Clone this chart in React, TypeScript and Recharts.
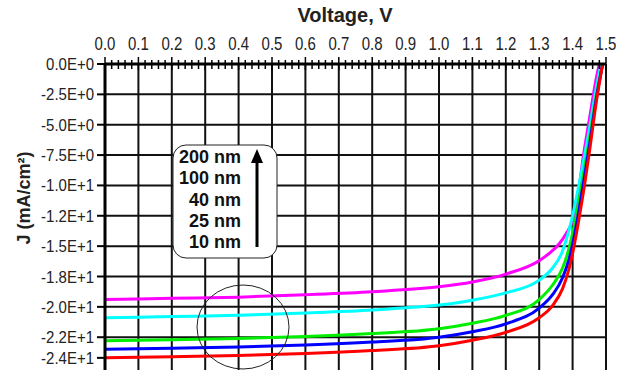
import React from 'react';
import { LineChart, Line, XAxis, YAxis, CartesianGrid } from 'recharts';

// J-V curves for different layer thicknesses
const v200 = [0, 0.2, 0.4, 0.6, 0.8, 1.0, 1.1, 1.2, 1.3, 1.33, 1.36, 1.38, 1.405, 1.415, 1.43, 1.45, 1.47, 1.48];
const j200 = [-19.4, -19.3, -19.2, -19.0, -18.75, -18.35, -17.95, -17.3, -16.2, -15.6, -14.8, -14.0, -12.5, -11.2, -8.0, -4.6, -1.3, 0];

const v100 = [0, 0.2, 0.4, 0.6, 0.8, 1.0, 1.1, 1.2, 1.3, 1.34, 1.37, 1.385, 1.4, 1.42, 1.45, 1.47, 1.485];
const j100 = [-20.9, -20.8, -20.7, -20.5, -20.25, -19.85, -19.45, -18.85, -17.8, -16.8, -15.4, -14.1, -12.5, -9.8, -5.4, -2.1, 0];

const v40 = [0, 0.2, 0.4, 0.6, 0.8, 1.0, 1.1, 1.2, 1.3, 1.34, 1.37, 1.385, 1.41, 1.43, 1.45, 1.47, 1.49];
const j40 = [-22.8, -22.7, -22.6, -22.45, -22.2, -21.8, -21.35, -20.7, -19.4, -18.2, -16.8, -15.6, -12.6, -9.5, -6.3, -2.8, 0];

const v25 = [0, 0.2, 0.4, 0.6, 0.8, 1.0, 1.1, 1.2, 1.3, 1.34, 1.37, 1.39, 1.415, 1.43, 1.45, 1.47, 1.49];
const j25 = [-23.5, -23.4, -23.3, -23.15, -22.9, -22.5, -22.05, -21.4, -20.1, -19.0, -17.6, -16.0, -12.7, -10.2, -6.8, -3.0, 0];

const v10 = [0, 0.2, 0.4, 0.6, 0.8, 1.0, 1.1, 1.2, 1.3, 1.34, 1.37, 1.39, 1.4, 1.42, 1.435, 1.45, 1.47, 1.49];
const j10 = [-24.2, -24.1, -24.0, -23.85, -23.6, -23.2, -22.75, -22.1, -20.9, -19.9, -18.5, -16.8, -15.6, -12.6, -10.1, -7.3, -3.3, 0];

const legendLabels = ['200 nm', '100 nm', '40 nm', '25 nm', '10 nm'];

const voltMajor = [0, 0.1, 0.2, 0.3, 0.4, 0.5, 0.6, 0.7, 0.8, 0.9, 1.0, 1.1, 1.2, 1.3, 1.4, 1.5];
const voltMinor = Array.from({ length: 76 }, (_, i) => +(i * 0.02).toFixed(2));

const jTicks = [0, -2.5, -5, -7.5, -10, -12.5, -15, -17.5, -20, -22.5, -24.2];
const jTickLabels = ['0.0E+0', '-2.5E+0', '-5.0E+0', '-7.5E+0', '-1.0E+1', '-1.2E+1', '-1.5E+1', '-1.8E+1', '-2.0E+1', '-2.2E+1', '-2.4E+1'];
const jGrid = [0, -2.5, -5, -7.5, -10, -12.5, -15, -17.5, -20, -22.5];

const toRows = (vs: number[], js: number[]) => vs.map((v, i) => ({ v, j: js[i] }));

const series = [
  { name: '200 nm', color: '#ff00ff', data: toRows(v200, j200) },
  { name: '100 nm', color: '#00ffff', data: toRows(v100, j100) },
  { name: '40 nm', color: '#00ee00', data: toRows(v40, j40) },
  { name: '25 nm', color: '#0000ff', data: toRows(v25, j25) },
  { name: '10 nm', color: '#ff0000', data: toRows(v10, j10) },
];

const FONT = '"Liberation Sans", Arial, sans-serif';

const VoltTick = (props: any) => {
  const { x, y, payload } = props;
  const v = payload.value;
  const major = Math.abs(v * 10 - Math.round(v * 10)) < 1e-6;
  return (
    <g>
      <line x1={x} x2={x} y1={major ? y - 7 : y - 4} y2={major ? y + 6 : y + 5} stroke="#000" strokeWidth={1.5} />
      {major && (
        <text
          transform={`translate(${x},${y - 14}) scale(1,1.2)`}
          textAnchor="middle"
          fontSize={15}
          fill="#222"
          fontFamily={FONT}
        >
          {v.toFixed(1)}
        </text>
      )}
    </g>
  );
};

const JTick = (props: any) => {
  const { x, y, index } = props;
  return (
    <text
      transform={`translate(${x},${y + 6}) scale(1,1.12)`}
      textAnchor="end"
      fontSize={15}
      fill="#222"
      fontFamily={FONT}
    >
      {jTickLabels[index]}
    </text>
  );
};

export default function App() {
  return (
    <div style={{ position: 'absolute', left: 0, top: 0, width: 628, height: 372, background: '#fff', fontFamily: FONT }}>
      <LineChart width={628} height={372} margin={{ top: 0, right: 22, bottom: 2, left: 0 }}>
        <CartesianGrid stroke="#111" strokeWidth={2} horizontalValues={jGrid} verticalValues={voltMajor} />
        <XAxis
          type="number"
          dataKey="v"
          orientation="top"
          domain={[0, 1.5]}
          ticks={voltMinor}
          interval={0}
          height={64}
          tick={<VoltTick />}
          tickLine={false}
          tickSize={0}
          tickMargin={0}
          axisLine={{ stroke: '#000', strokeWidth: 3 }}
          allowDataOverflow
        />
        <YAxis
          type="number"
          dataKey="j"
          domain={[-25.2, 0]}
          ticks={jTicks}
          interval={0}
          width={105}
          tick={<JTick />}
          tickSize={8}
          tickMargin={3}
          tickLine={{ stroke: '#000', strokeWidth: 2 }}
          axisLine={{ stroke: '#000', strokeWidth: 3 }}
          allowDataOverflow
        />
        {series.map((s) => (
          <Line
            key={s.name}
            data={s.data}
            dataKey="j"
            name={s.name}
            type="monotone"
            stroke={s.color}
            strokeWidth={3}
            dot={false}
            isAnimationActive={false}
          />
        ))}
      </LineChart>
      <svg width={628} height={372} style={{ position: 'absolute', left: 0, top: 0, pointerEvents: 'none' }}>
        <text x={345} y={22} textAnchor="middle" fontSize={20} fontWeight="bold" fill="#222" fontFamily={FONT}>
          Voltage, V
        </text>
        <text
          x={0}
          y={0}
          transform="translate(30,198) rotate(-90)"
          textAnchor="middle"
          fontSize={18}
          fontWeight="bold"
          fill="#222"
          fontFamily={FONT}
        >
          J (mA/cm²)
        </text>
        <rect x={173} y={145} width={104} height={113} rx={13} ry={13} fill="#fff" stroke="#222" strokeWidth={1} />
        {legendLabels.map((l, i) => (
          <text key={l} x={241} y={163 + i * 21.3} textAnchor="end" fontSize={18} fontWeight="bold" fill="#111" fontFamily={FONT}>
            {l}
          </text>
        ))}
        <line x1={257} y1={247} x2={257} y2={160} stroke="#000" strokeWidth={3} />
        <polygon points="251,163 257,149 263,163" fill="#000" />
        <ellipse cx={243} cy={327} rx={46} ry={42} fill="none" stroke="#222" strokeWidth={1} />
      </svg>
    </div>
  );
}
